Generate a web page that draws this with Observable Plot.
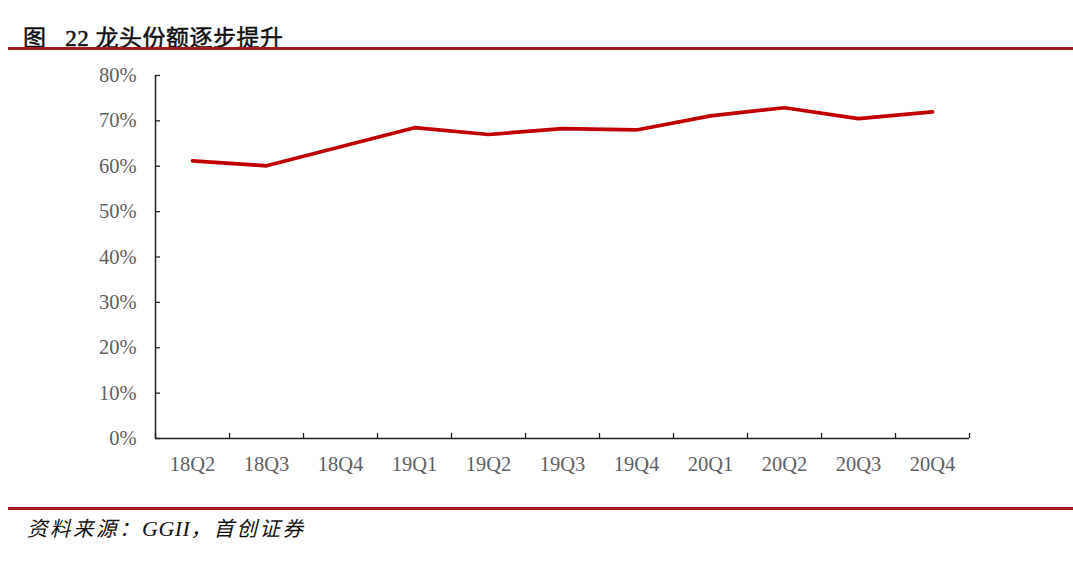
<!DOCTYPE html>
<html>
<head>
<meta charset="utf-8">
<script src="https://cdn.jsdelivr.net/npm/d3@7"></script>
<script src="https://cdn.jsdelivr.net/npm/@observablehq/plot@0.6"></script>
<style>
  html, body { margin: 0; padding: 0; background: #fff; }
  body { width: 1073px; height: 566px; position: relative; overflow: hidden; }
  #title { position: absolute; left: 23px; top: 19px; font-family: "Liberation Serif", "Noto Sans CJK SC", serif; font-size: 23px; font-weight: normal; -webkit-text-stroke: 0.5px #111; color: #111; white-space: pre; letter-spacing: 0.5px; }
  .rule { position: absolute; left: 8px; right: 0; background: #a31f1f; }
  #caption { position: absolute; left: 27px; top: 512px; font-family: "Liberation Serif", "Noto Sans CJK SC", serif; font-size: 20.5px; font-style: italic; color: #111; letter-spacing: 2.5px; }
  #caption .lat { letter-spacing: 0.5px; font-size: 22px; }
  #chart { position: absolute; left: 0; top: 60px; }
</style>
</head>
<body>
<div id="title">图   22 龙头份额逐步提升</div>
<div class="rule" style="top:47px;height:3px;"></div>
<div id="chart"></div>
<div class="rule" style="top:507px;height:2.5px;"></div>
<div id="caption">资料来源：<span class="lat">GGII</span>，首创证券</div>
<script>
const categories = ["18Q2","18Q3","18Q4","19Q1","19Q2","19Q3","19Q4","20Q1","20Q2","20Q3","20Q4"];
const share = [0.612, 0.601, 0.643, 0.685, 0.670, 0.683, 0.680, 0.711, 0.729, 0.705, 0.720];
const yTicks = [0, 0.1, 0.2, 0.3, 0.4, 0.5, 0.6, 0.7, 0.8];

const data = categories.map((c, i) => ({i, c, v: share[i]}));
const idx = categories.map((_, i) => i);
const bounds = d3.range(-0.5, categories.length, 1);

const chart = Plot.plot({
  width: 1073,
  height: 420,
  marginLeft: 155,
  marginRight: 104,
  marginTop: 15,
  marginBottom: 42,
  style: {fontFamily: "'Liberation Serif', serif", fontSize: "20.5px", color: "#595959", background: "white"},
  x: {type: "linear", domain: [-0.5, categories.length - 0.5]},
  y: {domain: [0, 0.8]},
  marks: [
    Plot.axisY({ticks: yTicks, tickSize: 0, tickPadding: 19, tickFormat: d => Math.round(d * 100) + "%", label: null, fill: "#606060"}),
    Plot.axisY({ticks: yTicks, tickSize: -5, tickFormat: () => "", label: null, stroke: "#222", strokeWidth: 1.3}),
    Plot.axisX({ticks: idx, tickSize: 0, tickPadding: 18, tickFormat: i => categories[i], label: null, fill: "#606060"}),
    Plot.axisX({ticks: bounds, tickSize: -5, tickFormat: () => "", label: null, stroke: "#222", strokeWidth: 1.3}),
    Plot.ruleX([-0.5], {stroke: "#222", strokeWidth: 1.5}),
    Plot.ruleY([0], {stroke: "#222", strokeWidth: 1.5}),
    Plot.line(data, {x: "i", y: "v", stroke: "#c00000", strokeWidth: 3.7, strokeLinejoin: "round", strokeLinecap: "round"})
  ]
});
document.getElementById("chart").appendChild(chart);
</script>
</body>
</html>
